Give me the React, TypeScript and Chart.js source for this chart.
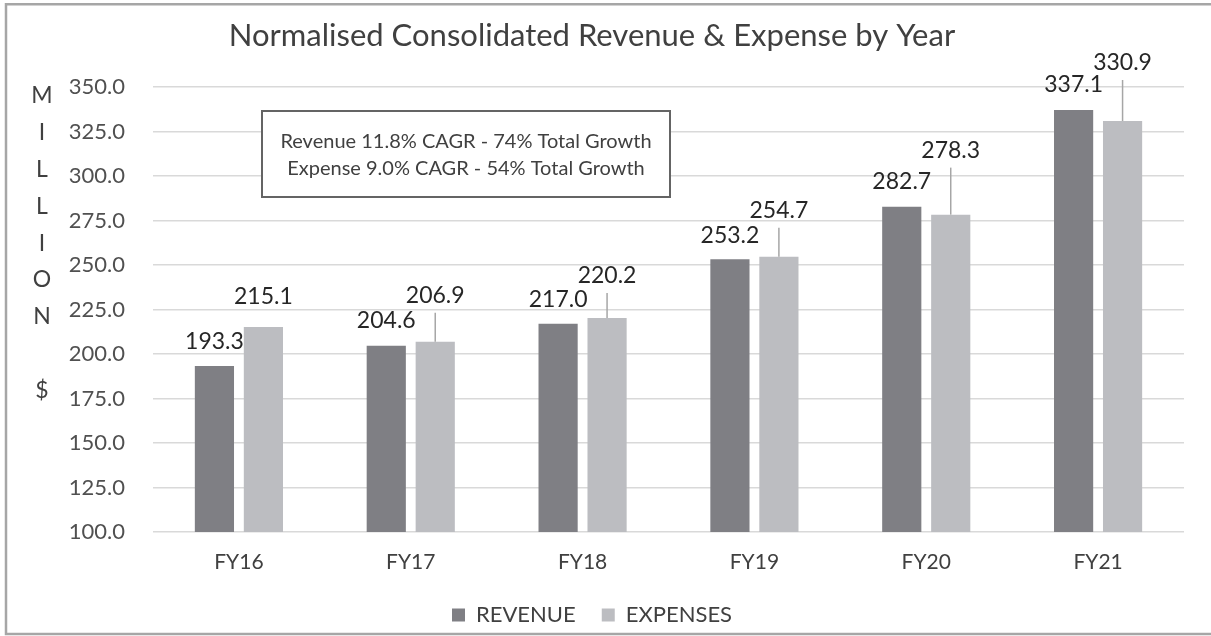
import React, { useEffect, useRef } from "react";
import { Chart, registerables } from "chart.js";

Chart.register(...registerables);

const categories = ["FY16", "FY17", "FY18", "FY19", "FY20", "FY21"];
const revenue = [193.3, 204.6, 217.0, 253.2, 282.7, 337.1];
const expenses = [215.1, 206.9, 220.2, 254.7, 278.3, 330.9];
const seriesNames = ["REVENUE", "EXPENSES"];
const yMin = 100;
const yMax = 350;
const yStep = 25;
const titleText = "Normalised Consolidated Revenue & Expense by Year";
const noteLines = [
  "Revenue 11.8% CAGR - 74% Total Growth",
  "Expense 9.0% CAGR - 54% Total Growth",
];
const axisTitleChars = ["M", "I", "L", "L", "I", "O", "N", " ", "$"];
// how far (px) each data label sits above its bar top
const revenueLabelLift = [24, 25, 24, 24, 25, 25];
const expenseLabelLift = [31, 46, 42, 46, 64, 58];

const FONT = "Lato";
const TEXT = "#404040";
const REV_COLOR = "#7f7f84";
const EXP_COLOR = "#bcbdc1";

const chartPlugin = {
  id: "customDecor",
  beforeDraw(chart: any) {
    const { ctx, width } = chart;
    ctx.save();
    ctx.fillStyle = "#ffffff";
    ctx.fillRect(0, 0, chart.width, chart.height);
    ctx.strokeStyle = "#a6a6a6";
    ctx.lineWidth = 2.5;
    ctx.beginPath();
    ctx.moveTo(width + 2, 4.2);
    ctx.lineTo(6, 4.2);
    ctx.lineTo(6, 634);
    ctx.lineTo(width + 2, 634);
    ctx.stroke();
    ctx.restore();
  },
  afterDatasetsDraw(chart: any) {
    const { ctx } = chart;
    ctx.save();
    ctx.font = `23px ${FONT}`;
    ctx.fillStyle = "#262626";
    ctx.textAlign = "center";
    ctx.textBaseline = "middle";
    const lifts = [revenueLabelLift, expenseLabelLift];
    chart.data.datasets.forEach((ds: any, di: number) => {
      const meta = chart.getDatasetMeta(di);
      meta.data.forEach((el: any, i: number) => {
        const lift = lifts[di][i];
        const ly = el.y - lift;
        if (lift > 35) {
          ctx.strokeStyle = "#a6a6a6";
          ctx.lineWidth = 1.5;
          ctx.beginPath();
          ctx.moveTo(el.x, ly + 17);
          ctx.lineTo(el.x, el.y);
          ctx.stroke();
        }
        ctx.fillText(Number(ds.data[i]).toFixed(1), el.x, ly);
      });
    });
    ctx.restore();
  },
  afterDraw(chart: any) {
    const { ctx, chartArea } = chart;
    ctx.save();
    // note box
    const bx = chartArea.left + 109;
    const by = chartArea.top + 24;
    const bw = 408;
    const bh = 86;
    ctx.fillStyle = "#ffffff";
    ctx.fillRect(bx, by, bw, bh);
    ctx.strokeStyle = "#646464";
    ctx.lineWidth = 2;
    ctx.strokeRect(bx, by, bw, bh);
    ctx.fillStyle = TEXT;
    ctx.font = `20px ${FONT}`;
    ctx.textAlign = "center";
    ctx.textBaseline = "middle";
    ctx.fillText(noteLines[0], bx + bw / 2, by + 31);
    ctx.fillText(noteLines[1], bx + bw / 2, by + 57.5);
    // vertical axis title
    ctx.font = `23px ${FONT}`;
    axisTitleChars.forEach((c, i) => {
      ctx.fillText(c, 42, chartArea.top + 9 + i * 36.8);
    });
    ctx.restore();
  },
};

export default function App() {
  const ref = useRef<HTMLCanvasElement | null>(null);
  useEffect(() => {
    if (!ref.current) return;
    const chart = new Chart(ref.current, {
      type: "bar",
      data: {
        labels: categories,
        datasets: [
          {
            label: seriesNames[0],
            data: revenue,
            backgroundColor: REV_COLOR,
            categoryPercentage: 0.57,
            barPercentage: 0.8,
          },
          {
            label: seriesNames[1],
            data: expenses,
            backgroundColor: EXP_COLOR,
            categoryPercentage: 0.57,
            barPercentage: 0.8,
          },
        ],
      },
      options: {
        responsive: false,
        animation: false,
        layout: { padding: { left: 0, right: 27, top: 0, bottom: 0 } },
        plugins: {
          title: {
            display: true,
            text: titleText,
            color: TEXT,
            font: { family: FONT, size: 31, weight: "normal" },
            padding: { top: 17.4, bottom: 32.4 },
          },
          legend: {
            display: true,
            position: "bottom",
            labels: {
              color: TEXT,
              font: { family: FONT, size: 22 },
              boxWidth: 13,
              boxHeight: 13,
              padding: 26,
            },
          },
          tooltip: { enabled: false },
        },
        scales: {
          x: {
            grid: { display: false, drawTicks: false },
            border: { display: false },
            ticks: {
              color: TEXT,
              font: { family: FONT, size: 21 },
              padding: 18,
            },
            afterFit: (s: any) => {
              s.height = 46;
            },
          },
          y: {
            min: yMin,
            max: yMax,
            grid: { color: "#d9d9d9", lineWidth: 1.5, drawTicks: false },
            border: { display: false },
            ticks: {
              stepSize: yStep,
              color: "#505050",
              font: { family: FONT, size: 22 },
              padding: 28,
              callback: (v: any) => Number(v).toFixed(1),
            },
            afterFit: (s: any) => {
              s.width = 153;
            },
          },
        },
      },
      plugins: [chartPlugin],
    });
    return () => chart.destroy();
  }, []);
  return (
    <div style={{ position: "fixed", left: 0, top: 0, width: 1211, height: 636 }}>
      <canvas ref={ref} width={1211} height={636} />
    </div>
  );
}
